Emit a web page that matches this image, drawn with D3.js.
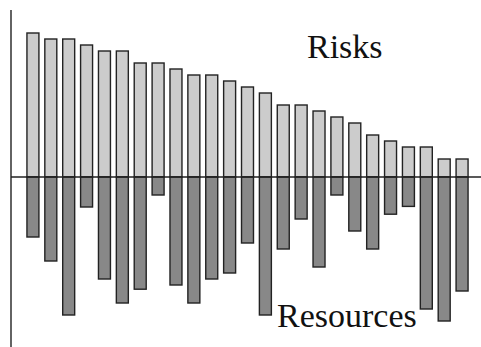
<!DOCTYPE html>
<html>
<head>
<meta charset="utf-8">
<script src="https://cdn.jsdelivr.net/npm/d3@7"></script>
<style>
  html, body { margin: 0; padding: 0; background: #fff; }
  svg { display: block; }
  .lbl { font-family: "Liberation Serif", "Times New Roman", Times, serif; font-size: 34px; fill: #111; }
</style>
</head>
<body>
<script>
const categories = d3.range(1, 26).map(i => "Item " + i);
const risks = [24, 23, 23, 22, 21, 21, 19, 19, 18, 17, 17, 16, 15, 14, 12, 12, 11, 10, 9, 7, 6, 5, 5, 3, 3];
const resources = [-10, -14, -23, -5, -17, -21, -18.7, -3, -18, -21, -17, -16, -11, -23, -12, -7, -15, -3, -9, -12, -6.2, -4.9, -22, -24, -19];
const seriesLabels = ["Risks", "Resources"];

const W = 481, H = 347;
const svg = d3.select("body").append("svg").attr("width", W).attr("height", H);

const x = d3.scaleBand().domain(categories).range([18, 477]).paddingInner(0.33).paddingOuter(0.5);
const y = d3.scaleLinear().domain([-28, 28]).range([345, 9]);

// bars
svg.append("g").selectAll("rect").data(categories).join("rect")
  .attr("x", d => x(d))
  .attr("width", x.bandwidth())
  .attr("y", (d, i) => y(risks[i]))
  .attr("height", (d, i) => y(0) - y(risks[i]))
  .attr("fill", "#cccccc").attr("stroke", "#222").attr("stroke-width", 1.4);

svg.append("g").selectAll("rect").data(categories).join("rect")
  .attr("x", d => x(d))
  .attr("width", x.bandwidth())
  .attr("y", y(0))
  .attr("height", (d, i) => y(resources[i]) - y(0))
  .attr("fill", "#888888").attr("stroke", "#222").attr("stroke-width", 1.4);

// axes lines
svg.append("line").attr("x1", 11).attr("x2", 11).attr("y1", y(28) + 1).attr("y2", H)
  .attr("stroke", "#222").attr("stroke-width", 1.4);
svg.append("line").attr("x1", 11).attr("x2", W).attr("y1", y(0)).attr("y2", y(0))
  .attr("stroke", "#222").attr("stroke-width", 1.4);

// labels
svg.append("text").attr("class", "lbl").attr("x", 307).attr("y", 58).text(seriesLabels[0]);
svg.append("text").attr("class", "lbl").attr("x", 277).attr("y", 327).text(seriesLabels[1]);
</script>
</body>
</html>
